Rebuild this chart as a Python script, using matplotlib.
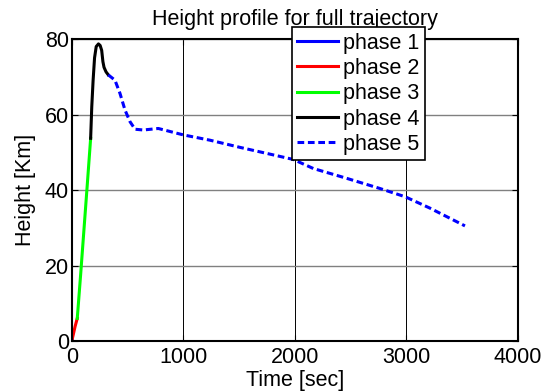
import matplotlib
matplotlib.use("Agg")
import matplotlib.pyplot as plt

plt.rcParams['font.family'] = ['Liberation Sans', 'DejaVu Sans']

# phase data (time [sec], height [Km])
t1 = [0, 2, 4]
h1 = [0, 0.2, 0.4]
t2 = [4, 15, 30, 50]
h2 = [0.4, 1.8, 3.8, 6.0]
t3 = [50, 80, 110, 140, 170]
h3 = [6.0, 17.5, 29.5, 41.5, 53.7]
t4 = [170, 180, 192, 205, 220, 240, 255, 269, 280, 290, 308, 328]
h4 = [53.7, 62.0, 69.0, 75.0, 78.0, 78.7, 78.3, 77.0, 74.0, 72.5, 71.3, 70.5]
t5 = [328, 388, 433, 478, 523, 568, 642, 777, 1001, 1240, 1509, 1749, 1987,
      2167, 2466, 2765, 2992, 3213, 3527]
h5 = [70.5, 69.1, 65.6, 61.2, 58.1, 56.1, 55.9, 56.3, 54.6, 53.2, 51.3, 49.7, 48.1,
      45.7, 43.1, 40.4, 38.2, 35.2, 30.5]

xticks = [0, 1000, 2000, 3000, 4000]
yticks = [0, 20, 40, 60, 80]

FS = 15.5

fig = plt.figure(figsize=(5.54, 3.92), dpi=100)
ax = fig.add_axes([0.1294, 0.130, 0.8051, 0.7705])

ax.plot(t1, h1, color='#0000ff', lw=2.2, label='phase 1')
ax.plot(t2, h2, color='#ff0000', lw=2.2, label='phase 2')
ax.plot(t3, h3, color='#00ff00', lw=2.2, label='phase 3')
ax.plot(t4, h4, color='#000000', lw=2.2, label='phase 4')
ax.plot(t5, h5, color='#0000ff', lw=2.2, ls=(0, (2.2, 1.2)), label='phase 5')

ax.set_xlim(0, 4000)
ax.set_ylim(0, 80)
ax.set_xticks(xticks)
ax.set_yticks(yticks)
ax.tick_params(direction='in', top=True, right=True, labelsize=FS, length=4, width=0.8)
ax.tick_params(axis='x', pad=4)
ax.tick_params(axis='y', pad=2)
for s in ax.spines.values():
    s.set_linewidth(1.5)
ax.xaxis.grid(True, color='#000000', lw=0.7)
ax.yaxis.grid(True, color='#808080', lw=1.0)
ax.set_axisbelow(True)

ax.set_xlabel('Time [sec]', fontsize=FS, labelpad=2)
ax.set_ylabel('Height [Km]', fontsize=FS, labelpad=6)
ax.set_title('Height profile for full trajectory', fontsize=FS, pad=10)

leg = ax.legend(loc='upper left', bbox_to_anchor=(0.5265, 0.9304), bbox_transform=fig.transFigure,
                fontsize=FS, frameon=True, fancybox=False, edgecolor='black', framealpha=1,
                borderpad=0.25, labelspacing=0.2, handlelength=1.9, handletextpad=0.25,
                borderaxespad=0)
leg.get_frame().set_linewidth(1.2)

fig.savefig('out.png', dpi=100)
